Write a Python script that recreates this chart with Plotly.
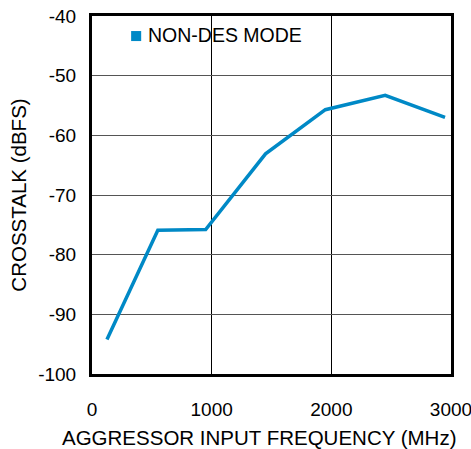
import plotly.graph_objects as go

# Crosstalk vs aggressor input frequency
freq_mhz = [125, 550, 950, 1450, 1950, 2450, 2950]
crosstalk_dbfs = [-94.2, -75.9, -75.8, -63.1, -55.7, -53.3, -57.0]
series_name = "NON-DES MODE"

x_ticks = [0, 1000, 2000, 3000]
y_ticks = [-100, -90, -80, -70, -60, -50, -40]
y_tick_text = [str(v) for v in y_ticks]  # plain hyphen, not unicode minus

BLUE = "#0089C6"
FONT = "Liberation Sans, Arial, sans-serif"

fig = go.Figure()
fig.add_trace(go.Scatter(x=freq_mhz, y=crosstalk_dbfs, mode="lines",
                         line=dict(color=BLUE, width=3.5),
                         showlegend=False, name=series_name))

# legend: square swatch + label inside the plot
fig.add_shape(type="rect", xref="paper", yref="paper",
              x0=0.109, x1=0.137, y0=0.930, y1=0.958,
              fillcolor=BLUE, line=dict(width=0))
fig.add_annotation(text=series_name, xref="paper", yref="paper",
                   x=0.150, y=0.946, xanchor="left", yanchor="middle",
                   showarrow=False, font=dict(size=19.5))
# x axis title (centred slightly left of plot centre, as in the source)
fig.add_annotation(text="AGGRESSOR INPUT FREQUENCY (MHz)", xref="paper", yref="paper",
                   x=0.465, y=-0.176, xanchor="center", yanchor="middle",
                   showarrow=False, font=dict(size=20.5))

fig.update_layout(
    width=471, height=449,
    margin=dict(l=92, r=20, t=16, b=75),
    plot_bgcolor="white", paper_bgcolor="white",
    font=dict(family=FONT, size=19, color="black"),
    showlegend=False,
)
fig.update_xaxes(range=[0, 3000], tickvals=x_ticks, automargin=False,
                 ticklabeloverflow="allow",
                 showgrid=True, gridcolor="black", gridwidth=1,
                 showline=True, linecolor="black", linewidth=3, mirror=True,
                 ticks="outside", ticklen=16, tickcolor="rgba(0,0,0,0)",
                 zeroline=False)
fig.update_yaxes(range=[-100, -40], tickvals=y_ticks, ticktext=y_tick_text,
                 automargin=False, ticklabeloverflow="allow",
                 showgrid=True, gridcolor="#555555", gridwidth=1,
                 showline=True, linecolor="black", linewidth=3, mirror=True,
                 ticks="outside", ticklen=9, tickcolor="rgba(0,0,0,0)",
                 zeroline=False,
                 title=dict(text="CROSSTALK (dBFS)", standoff=6,
                            font=dict(size=20.5)))

# drop the browser's default 8px body margin so the figure fills the window
fig.write_html("out.html", config={"displayModeBar": False},
               post_script="document.body.style.margin='0';")
